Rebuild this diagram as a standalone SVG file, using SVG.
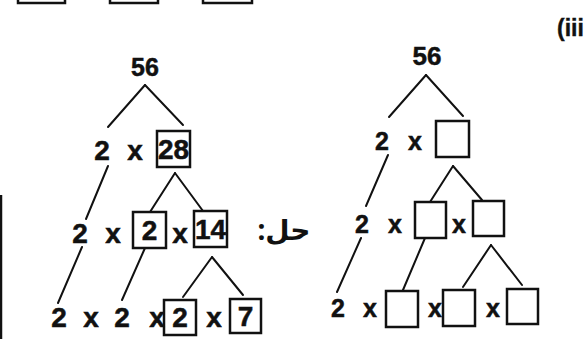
<svg xmlns="http://www.w3.org/2000/svg" width="588" height="339" viewBox="0 0 588 339">
<style>
.t{font-family:"Liberation Sans Narrow","Liberation Sans",Arial,sans-serif;font-weight:bold;fill:#111;stroke:#111;stroke-width:0.5;text-anchor:middle}
.L{font-size:28px}
.R{font-size:25px}
.n1{font-size:25px}
.n2{font-size:26px}
.b{fill:none;stroke:#111;stroke-width:2.5}
.c line{stroke:#111;stroke-width:2;stroke-linecap:round}
</style>
<rect width="588" height="339" fill="#fff"/>
<g id="page-edges">
<rect class="b" x="18" y="-20" width="47" height="23"/>
<rect class="b" x="110" y="-20" width="48" height="23" stroke-width="3.5"/>
<rect class="b" x="203" y="-20" width="49" height="23"/>
<line x1="1" y1="195" x2="1" y2="339" stroke="#111" stroke-width="2.5"/>
<text x="557" y="36" style="font-family:'Liberation Sans',Arial,sans-serif;font-weight:bold;font-size:23px;fill:#111;stroke:#111;stroke-width:0.4">(iii</text>
</g>
<g class="c" id="connectors">
<line x1="145" y1="85" x2="108" y2="127"/>
<line x1="145" y1="85" x2="183" y2="125"/>
<line x1="108" y1="166" x2="86" y2="219"/>
<line x1="82" y1="247" x2="58" y2="303"/>
<line x1="175" y1="173" x2="150" y2="212"/>
<line x1="175" y1="173" x2="203" y2="211"/>
<line x1="145" y1="248" x2="122" y2="300"/>
<line x1="212" y1="257" x2="183" y2="297"/>
<line x1="212" y1="257" x2="243" y2="295"/>
<line x1="426" y1="75" x2="389" y2="117"/>
<line x1="426" y1="75" x2="463" y2="116"/>
<line x1="388" y1="155" x2="366" y2="206"/>
<line x1="361" y1="238" x2="337" y2="292"/>
<line x1="453" y1="166" x2="430" y2="202"/>
<line x1="453" y1="166" x2="482" y2="200"/>
<line x1="425" y1="238" x2="403" y2="290"/>
<line x1="491" y1="245" x2="463" y2="287"/>
<line x1="491" y1="245" x2="522" y2="285"/>
</g>
<g id="left-tree">
<g id="l-56"><text class="t n1" x="145" y="76">56</text></g>
<g id="l-row1">
<text class="t L" x="102" y="160">2</text>
<text class="t L" x="135" y="160">x</text>
<rect class="b" x="157" y="131" width="33" height="36"/>
<text class="t L" x="173.5" y="159">28</text>
</g>
<g id="l-row2">
<text class="t L" x="80" y="243">2</text>
<text class="t L" x="113" y="243">x</text>
<rect class="b" x="133" y="212" width="33" height="36"/>
<text class="t L" x="149.5" y="240">2</text>
<text class="t L" x="180" y="243">x</text>
<rect class="b" x="194" y="211" width="33" height="36"/>
<text class="t L" x="210.5" y="239">14</text>
</g>
<g id="l-row3">
<text class="t L" x="59" y="327">2</text>
<text class="t L" x="91" y="327">x</text>
<text class="t L" x="122" y="327">2</text>
<text class="t L" x="157" y="327">x</text>
<rect class="b" x="164" y="300" width="32" height="35"/>
<text class="t L" x="180" y="327">2</text>
<text class="t L" x="214" y="327">x</text>
<rect class="b" x="230" y="299" width="31" height="34"/>
<text class="t L" x="245.5" y="326">7</text>
</g>
<g id="label-hal"><text x="284" y="240" style="font-family:'Noto Sans','DejaVu Sans',sans-serif;font-weight:bold;font-size:28px;fill:#111;text-anchor:middle">:حل</text></g>
</g>
<g id="right-tree">
<g id="r-56"><text class="t n2" x="427" y="65">56</text></g>
<g id="r-row1">
<text class="t R" x="382" y="150">2</text>
<text class="t R" x="415" y="150">x</text>
<rect class="b" x="436" y="121" width="33" height="36"/>
</g>
<g id="r-row2">
<text class="t R" x="362" y="233">2</text>
<text class="t R" x="395" y="233">x</text>
<rect class="b" x="415" y="202" width="31" height="36"/>
<text class="t R" x="459" y="233">x</text>
<rect class="b" x="473" y="201" width="31" height="35"/>
</g>
<g id="r-row3">
<text class="t R" x="338" y="317">2</text>
<text class="t R" x="370" y="317">x</text>
<rect class="b" x="386" y="291" width="32" height="36"/>
<text class="t R" x="435" y="317">x</text>
<rect class="b" x="443" y="290" width="32" height="36"/>
<text class="t R" x="493" y="317">x</text>
<rect class="b" x="507" y="289" width="31" height="35"/>
</g>
</g>
</svg>
